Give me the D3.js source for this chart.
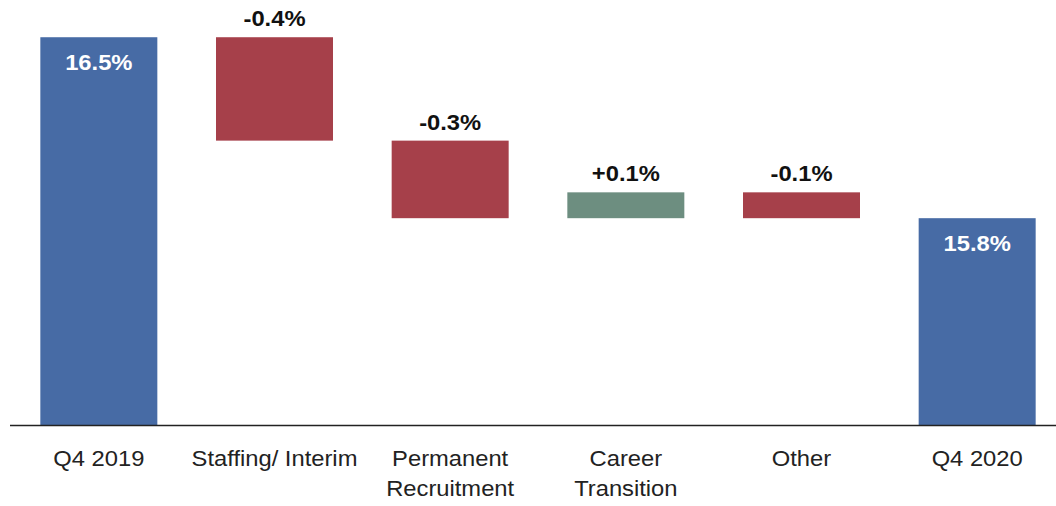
<!DOCTYPE html>
<html>
<head>
<meta charset="utf-8">
<script src="https://cdn.jsdelivr.net/npm/d3@7"></script>
<style>
  html, body { margin: 0; padding: 0; background: #fff; }
  svg { display: block; }
</style>
</head>
<body>
<svg id="chart" width="1056" height="506"></svg>
<script>
// Bridge of margin (%) from Q4 2019 to Q4 2020
const categories = ["Q4 2019", "Staffing/ Interim", "Permanent\nRecruitment", "Career\nTransition", "Other", "Q4 2020"];
const kinds = ["total", "delta", "delta", "delta", "delta", "total"];
const values = [16.5, -0.4, -0.3, 0.1, -0.1, 15.8];
const valueLabels = ["16.5%", "-0.4%", "-0.3%", "+0.1%", "-0.1%", "15.8%"];
const yDomain = [15.0, 16.644];

const colors = { total: "#476ba5", down: "#a6404a", up: "#6d8e80" };
const FONT = "'Liberation Sans', Arial, Helvetica, sans-serif";
const WIDEN = "scale(1.08,1)";

// running start/end for each bar
let running = 0;
const bars = categories.map((c, i) => {
  let y0, y1;
  if (kinds[i] === "total") { y0 = yDomain[0]; y1 = values[i]; running = values[i]; }
  else { y0 = running; y1 = running + values[i]; running = y1; }
  return { cat: c, kind: kinds[i], v: values[i], y0, y1, label: valueLabels[i] };
});

const svg = d3.select("#chart");
const baseY = 425;

const x = d3.scaleBand().domain(categories).range([11, 1065]).paddingInner(0.334).paddingOuter(0.167);
const y = d3.scaleLinear().domain(yDomain).range([baseY, 0]);

const fillFor = d => d.kind === "total" ? colors.total : (d.v < 0 ? colors.down : colors.up);

svg.append("g").selectAll("rect").data(bars).join("rect")
  .attr("x", d => x(d.cat))
  .attr("width", x.bandwidth())
  .attr("y", d => y(Math.max(d.y0, d.y1)))
  .attr("height", d => Math.abs(y(d.y0) - y(d.y1)))
  .attr("fill", fillFor);

// value labels: inside totals (white), above deltas (black)
svg.append("g").selectAll("g").data(bars).join("g")
  .attr("transform", d => {
    const cx = x(d.cat) + x.bandwidth() / 2;
    const top = y(Math.max(d.y0, d.y1));
    const ty = d.kind === "total" ? top + 33 : top - 11;
    return `translate(${cx},${ty}) ${WIDEN}`;
  })
  .append("text")
  .attr("text-anchor", "middle")
  .attr("font-family", FONT)
  .attr("font-weight", "bold")
  .attr("font-size", 22)
  .attr("fill", d => d.kind === "total" ? "#ffffff" : "#111111")
  .text(d => d.label);

// category axis
const xAxis = d3.axisBottom(x).tickSize(0).tickPadding(0);
const gx = svg.append("g").attr("transform", `translate(0,${baseY})`).call(xAxis);
gx.select(".domain").remove();
svg.append("line")
  .attr("x1", 10).attr("x2", 1056)
  .attr("y1", baseY + 0.5).attr("y2", baseY + 0.5)
  .attr("stroke", "#222").attr("stroke-width", 1.5);

gx.selectAll(".tick text").each(function(d) {
  const t = d3.select(this);
  t.text(null)
    .attr("y", 0)
    .attr("dy", null)
    .attr("transform", WIDEN)
    .attr("font-family", FONT)
    .attr("font-size", 22)
    .attr("fill", "#222");
  d.split("\n").forEach((line, k) => {
    t.append("tspan").attr("x", 0).attr("y", 41 + k * 30).text(line);
  });
});
</script>
</body>
</html>
